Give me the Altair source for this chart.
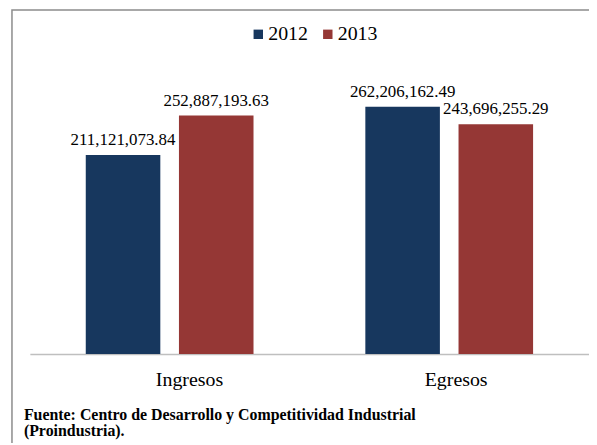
import altair as alt
import pandas as pd

categories = ["Ingresos", "Ingresos", "Egresos", "Egresos"]
years = ["2012", "2013", "2012", "2013"]
values = [211121073.84, 252887193.63, 262206162.49, 243696255.29]
source_lines = ["Fuente:  Centro de Desarrollo y Competitividad Industrial", "(Proindustria)."]

df = pd.DataFrame({"cat": categories, "year": years, "value": values})

SERIF = "'Times New Roman', 'Liberation Serif', 'DejaVu Serif', serif"

x_enc = alt.X("cat:N", sort=["Ingresos", "Egresos"], title=None,
              scale=alt.Scale(paddingInner=0.4, paddingOuter=0.2),
              axis=alt.Axis(labelAngle=0, ticks=False, tickSize=0, labelFont=SERIF,
                            labelFontSize=20, labelColor="#000000", labelPadding=32,
                            labelBaseline="alphabetic", domainColor="#BFBFBF", domainWidth=1.5,
                            labelOffset={"condition": {"test": "datum.value == 'Ingresos'", "value": 20}, "value": 7}))
xo_enc = alt.XOffset("year:N", scale=alt.Scale(paddingInner=0.2, paddingOuter=0))
y_enc = alt.Y("value:Q", scale=alt.Scale(domain=[0, 300000000]), axis=None)

bars = alt.Chart(df).mark_bar().encode(
    x=x_enc, xOffset=xo_enc, y=y_enc,
    color=alt.Color("year:N", scale=alt.Scale(domain=["2012", "2013"], range=["#17375E", "#953735"]),
                    legend=alt.Legend(orient="none", legendX=220, legendY=-47, direction="horizontal",
                                      title=None, symbolType="square", symbolSize=90, symbolStrokeWidth=0,
                                      labelFont=SERIF, labelFontSize=20, labelColor="#000000",
                                      columnPadding=10, labelOffset=0, padding=0)),
)

labels = alt.Chart(df).mark_text(font=SERIF, fontSize=17, color="#000000", baseline="alphabetic", dy=-10).encode(
    x=x_enc, xOffset=xo_enc, y=y_enc,
    text=alt.Text("value:Q", format=",.2f"),
)

box = alt.Chart(pd.DataFrame({"a": [0]})).mark_rect(filled=False, stroke="#8C8C8C", strokeWidth=1.5).encode(
    x=alt.value(-18), x2=alt.value(600), y=alt.value(-61.5), y2=alt.value(400),
)

source = alt.Chart(pd.DataFrame({"t": [source_lines]})).mark_text(
    font=SERIF, fontSize=16, fontWeight="bold", align="left", baseline="alphabetic",
    lineHeight=16, color="#000000",
).encode(x=alt.value(-6), y=alt.value(351), text="t")

chart = alt.layer(box, bars, labels, source).properties(
    width=563, height=285,
    autosize=alt.AutoSizeParams(type="none"),
    padding={"left": 22, "top": 62, "right": 0, "bottom": 88},
).configure_view(stroke=None)

chart.save("out.html", embed_options={"renderer": "svg", "actions": False})
